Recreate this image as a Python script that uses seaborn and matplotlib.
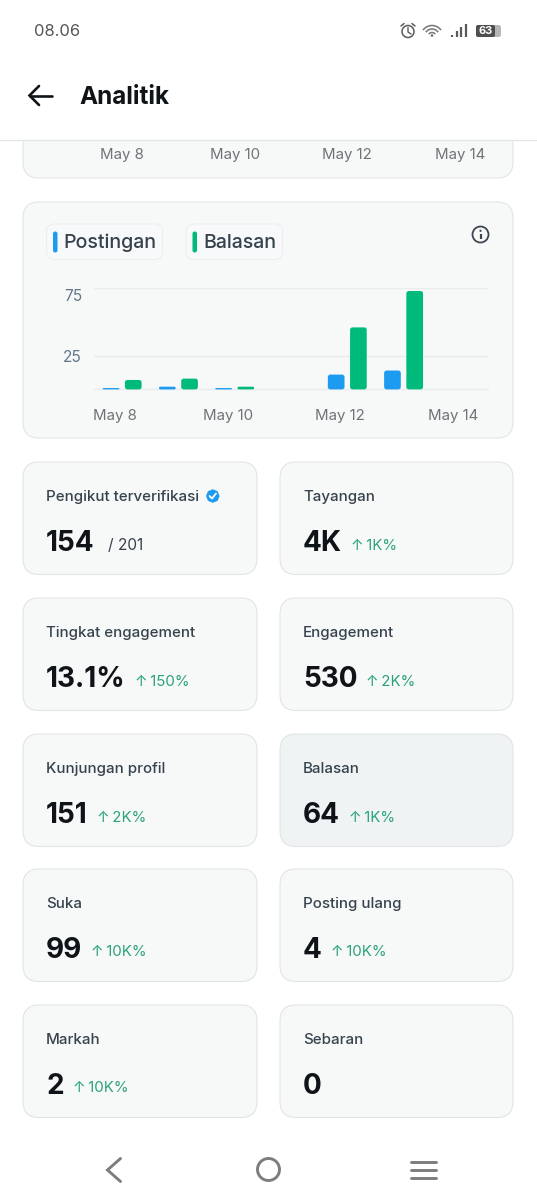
import matplotlib
matplotlib.use("Agg")
import matplotlib.pyplot as plt
from matplotlib.patches import FancyBboxPatch, Circle, Arc, RegularPolygon
from matplotlib.transforms import ScaledTranslation
import seaborn as sns
import pandas as pd

days = ["May 8", "May 9", "May 10", "May 11", "May 12", "May 13", "May 14"]
postingan = [1, 2, 1, 0, 11, 14, 0]
balasan = [7, 8, 2, 0, 46, 73, 0]
y_ticks = [25, 75]
x_ticks = ["May 8", "May 10", "May 12", "May 14"]
series_names = ["Postingan", "Balasan"]
series_colors = ["#1d9bf0", "#00ba7c"]

card_labels = ["Pengikut terverifikasi", "Tayangan", "Tingkat engagement", "Engagement",
               "Kunjungan profil", "Balasan", "Suka", "Posting ulang", "Markah", "Sebaran"]
card_values = ["154", "4K", "13.1%", "530", "151", "64", "99", "4", "2", "0"]
card_deltas = ["/ 201", "↑\u20091K%", "↑\u2009150%", "↑\u20092K%", "↑\u20092K%", "↑\u20091K%",
               "↑\u200910K%", "↑\u200910K%", "↑\u200910K%", ""]

W, H = 537, 1199
DPI = 100
CARD_BG = "#f7f8f8"
EDGE = "#e1e5e6"
DARK = "#0f1419"
LABEL = "#36424d"
GREEN = "#2ba37a"
GREY = "#6f7478"

sns.set_theme(style="white")
plt.rcParams["font.family"] = ["Inter", "DejaVu Sans"]


def px(size):
    # font size given in screen pixels
    return size * 72 / DPI


fig = plt.figure(figsize=(W / DPI, H / DPI), dpi=DPI, facecolor="white")
bg = fig.add_axes([0, 0, 1, 1])
bg.set_xlim(0, W)
bg.set_ylim(H, 0)
bg.axis("off")


def card(x0, y0, x1, y1, face=CARD_BG, edge=EDGE, r=16, lw=0.8, z=1):
    box = FancyBboxPatch((x0, y0), x1 - x0, y1 - y0, boxstyle=f"round,pad=0,rounding_size={r}",
                         fc=face, ec=edge, lw=lw, zorder=z)
    bg.add_patch(box)
    return box


# cropped chart card under the header
card(23, 90, 513, 178)
for label, x in zip(x_ticks, [122, 235, 347, 460]):
    bg.text(x, 155, label, fontsize=px(15), color=GREY, ha="center", va="center", zorder=2)

# header
bg.fill_between([0, W], 0, 140, color="white", zorder=3)
bg.plot([0, W], [140, 140], color="#e3e6e7", lw=1.0, zorder=4)
bg.text(34, 31, "08.06", fontsize=px(16.5), color="#555555", ha="left", va="center", zorder=5)
bg.text(79.5, 97, "Analitik", fontsize=px(24.3), fontweight="bold", color=DARK, ha="left", va="center", zorder=5)
bg.plot([30, 52], [95.5, 95.5], color=DARK, lw=1.9, zorder=5, solid_capstyle="round")
bg.plot([39, 29.5, 39], [86, 95.5, 105], color=DARK, lw=1.9, zorder=5, solid_capstyle="round", solid_joinstyle="miter")

# status icons
ICON = "#5a5a5a"
bg.add_patch(Circle((408, 31.5), 6, fc="none", ec=ICON, lw=1.1, zorder=5))
bg.plot([408, 408, 411], [27.5, 32, 34], color=ICON, lw=1.0, zorder=5)
bg.plot([401, 404], [26, 23.5], color=ICON, lw=1.1, zorder=5)
bg.plot([412, 415], [23.5, 26], color=ICON, lw=1.1, zorder=5)
for d in [22, 15, 8]:
    bg.add_patch(Arc((432, 36.5), d, d, theta1=215, theta2=325, ec="#777777", lw=1.1, zorder=5))
bg.add_patch(Circle((432, 35.5), 1.2, fc=ICON, ec="none", zorder=5))
for x, top in zip([452, 456.5, 461, 465.5], [35, 31, 27, 24]):
    bg.plot([x, x], [top, 37], color=ICON, lw=1.6, zorder=5, solid_capstyle="butt")
bg.add_patch(FancyBboxPatch((476, 25), 25, 12, boxstyle="round,pad=0,rounding_size=2.5", fc="#b5b5b5", ec="none", zorder=5))
bg.add_patch(FancyBboxPatch((476, 25), 19, 12, boxstyle="round,pad=0,rounding_size=2", fc="#4e4e4e", ec="none", zorder=5))
bg.text(486, 31, "63", fontsize=px(11), fontweight="bold", color="white", ha="center", va="center", zorder=6)

# main chart card and legend
card(23, 202, 513, 438)
for name, color, x0, x1 in zip(series_names, series_colors, [46.5, 186], [162.5, 282.5]):
    card(x0, 224, x1, 259.5, face="#f8f9fa", edge="#eceff0", r=8, lw=0.8, z=2)
    bg.add_patch(FancyBboxPatch((x0 + 6.5, 231.5), 4.5, 21, boxstyle="round,pad=0,rounding_size=2.2",
                                fc=color, ec="none", zorder=3))
    bg.text(x0 + 17, 248, name, fontsize=px(19.6), fontweight="medium", color=LABEL, ha="left", va="baseline", zorder=3)

# info icon
bg.add_patch(Circle((480.5, 234.5), 8, fc="none", ec="#3c4650", lw=1.3, zorder=3))
bg.add_patch(Circle((480.5, 230.8), 1.1, fc="#3c4650", ec="none", zorder=3))
bg.plot([480.5, 480.5], [233.8, 239], color="#3c4650", lw=1.6, zorder=3, solid_capstyle="butt")

# bars
chart = fig.add_axes([94 / W, (H - 389.4) / H, 394 / W, 101.1 / H], facecolor="none")
df = pd.DataFrame({"day": days * 2,
                   "count": postingan + balasan,
                   "series": [series_names[0]] * len(days) + [series_names[1]] * len(days)})
sns.barplot(data=df, x="day", y="count", hue="series", hue_order=series_names, palette=series_colors,
            width=0.79, gap=0.25, legend=False, saturation=1, ax=chart)
chart.set_xlim(-0.5, 6.5)
chart.set_ylim(0, 75)
chart.set_xlabel("")
chart.set_ylabel("")
chart.set_yticks(y_ticks)
chart.set_xticks([0, 2, 4, 6])
chart.set_xticklabels(x_ticks)
chart.tick_params(axis="x", length=0, pad=px(19.5), labelsize=px(15), labelcolor=GREY)
chart.tick_params(axis="y", length=0, pad=px(12), labelsize=px(15.5), labelcolor="#64778a")
chart.grid(axis="y", color="#e8ecef", lw=1.0)
chart.grid(axis="x", visible=False)
chart.set_axisbelow(True)
for side in ["top", "left", "right"]:
    chart.spines[side].set_visible(False)
chart.spines["bottom"].set_color("#e8ecef")
chart.spines["bottom"].set_linewidth(1.0)

# round the bar corners, sizes taken from the bars seaborn placed
x_unit = 394 / 7
y_unit = 101.1 / 75
for bar in list(chart.patches):
    x, y, w, h = bar.get_x(), bar.get_y(), bar.get_width(), bar.get_height()
    color = bar.get_facecolor()
    bar.remove()
    if h <= 0:
        continue
    r_px = min(2.5, h * y_unit / 2)
    chart.add_patch(FancyBboxPatch((x, y), w, h, boxstyle=f"round,pad=0,rounding_size={r_px / x_unit}",
                                   mutation_aspect=x_unit / y_unit, fc=color, ec="none", zorder=3, clip_on=False))

# labels sit a bit left of the band centres, and 75 hangs below its line
for label in chart.get_xticklabels():
    label.set_transform(label.get_transform() + ScaledTranslation(-7 / DPI, 0, fig.dpi_scale_trans))
y_labels = chart.get_yticklabels()
y_labels[1].set_transform(y_labels[1].get_transform() + ScaledTranslation(0, -7 / DPI, fig.dpi_scale_trans))

# metric cards
row_tops = [462, 598, 734, 869, 1005]
fig.canvas.draw()
renderer = fig.canvas.get_renderer()
inv = bg.transData.inverted()
for i, (label, value, delta) in enumerate(zip(card_labels, card_values, card_deltas)):
    top = row_tops[i // 2]
    x0, x1 = (23, 257) if i % 2 == 0 else (280, 513)
    face = "#eff3f4" if label == "Balasan" else CARD_BG
    card(x0, top, x1, top + 112.5, face=face)
    bg.text(x0 + 23, top + 39, label, fontsize=px(15.1), fontweight="medium", color=LABEL,
            ha="left", va="baseline", zorder=3)
    val = bg.text(x0 + 23, top + 89, value, fontsize=px(28), fontweight="bold", color=DARK,
                  ha="left", va="baseline", zorder=3)
    end = inv.transform(val.get_window_extent(renderer))[1][0]
    if delta:
        is_ratio = delta.startswith("/")
        bg.text(end + (13 if is_ratio else 9), top + 87.5, delta, fontsize=px(15.5 if is_ratio else 15),
                color=LABEL if is_ratio else GREEN, ha="left", va="baseline", zorder=3)

# verified badge
bg.add_patch(RegularPolygon((212.8, 496), 8, radius=6.8, fc="#1d9bf0", ec="none", zorder=3))
bg.plot([209.6, 212, 216], [496, 498.5, 493.5], color="white", lw=1.3, zorder=4)

# nav bar
NAV = "#7d7d7d"
bg.plot([120.5, 107.5, 120.5], [1158.5, 1170, 1181.5], color=NAV, lw=2.1, zorder=3, solid_joinstyle="miter")
bg.add_patch(Circle((268.5, 1169.5), 11, fc="none", ec=NAV, lw=2.1, zorder=3))
for y in [1161.5, 1169.5, 1177.5]:
    bg.plot([411, 436], [y, y], color=NAV, lw=2.1, zorder=3)

fig.savefig("out.png", dpi=DPI, facecolor="white")
